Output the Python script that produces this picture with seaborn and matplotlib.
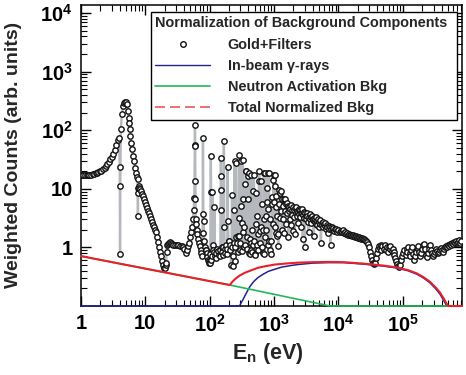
import matplotlib
matplotlib.use("Agg")
import matplotlib.pyplot as plt
from matplotlib.lines import Line2D
from matplotlib.ticker import FixedLocator, FixedFormatter, LogLocator, NullFormatter
import seaborn as sns
import pandas as pd

# ---------------- data ----------------
gold_E = [
    1.00, 1.036, 1.09, 1.154, 1.22, 1.28, 1.355, 1.43, 1.51, 1.59, 1.68, 1.77, 1.87, 1.97,
    2.08, 2.20, 2.32, 2.44, 2.58, 2.72, 2.87, 3.03, 3.19, 3.37, 3.55, 3.75, 3.89,
    4.00, 4.04, 4.08, 4.15, 4.33, 4.49, 4.65, 4.82, 5.00, 5.18, 5.37, 5.50, 5.60, 5.70,
    5.85, 6.00, 6.20, 6.40, 6.66, 6.90, 7.15, 7.42, 7.55, 7.62, 7.66, 7.72, 7.85, 8.00,
    8.26, 8.55, 8.87, 9.20, 9.52, 9.85, 10.2, 10.6, 11.0, 11.4, 11.8, 12.2, 12.7, 13.1,
    13.6, 14.1, 14.6, 15.1, 15.7, 16.3, 16.9, 17.5, 18.1, 18.8, 19.4, 20.1, 20.9,
    21.0, 21.5, 22.0, 22.6, 23.3, 24.1, 25.0, 26.0, 27.0, 28.8, 30.5, 32.1, 34.4, 36.5,
    38.4, 40.5, 42.7, 44.0, 45.9, 47.5, 49.2, 51.0, 52.8, 54.7, 56.7, 57.5, 58.0, 58.5,
    59.0, 59.3, 59.8, 60.5, 61.5, 62.5, 64, 66, 68, 70, 72, 74, 76, 77.5, 78.5, 79.5,
    80.5, 82, 84, 86, 88, 90, 92, 94, 96, 98, 100, 102, 104, 105, 106, 108, 110, 112,
    114, 116, 118, 120, 123, 126, 130, 134, 138, 142, 146, 149, 150, 151, 152, 153, 156,
    159, 163, 166, 168, 171, 175, 180, 183, 187, 190, 192, 196, 201, 205, 210, 214, 218,
    222, 226, 230, 235, 240, 243, 246, 250, 256, 260, 265, 270, 276, 281, 286, 290, 295,
    300, 305, 309, 313, 318, 323, 327, 332, 338, 345, 351, 358, 364, 370, 376, 383, 390,
    396, 402, 408, 415, 422, 430, 437, 444, 452, 460, 470, 478, 486, 494, 503, 512, 522,
    532, 541, 551, 561, 571, 581, 588, 598, 610, 623, 634, 646, 658, 670, 682, 694, 700,
    706, 719, 732, 745, 758, 772, 785, 795, 805, 818, 830, 840, 859, 875, 891, 907, 923,
    940, 956, 973, 991, 1000, 1015, 1027, 1040, 1055, 1070, 1085, 1103, 1120, 1143, 1160,
    1184, 1205, 1227, 1250, 1272, 1295, 1318, 1342, 1366, 1390, 1415, 1440, 1467, 1490,
    1520, 1548, 1575, 1605, 1633, 1662, 1692, 1722, 1753, 1785, 1817, 1850, 1883, 1917,
    1951, 1987, 2023, 2060, 2096, 2135, 2172, 2210, 2251, 2290, 2333, 2375, 2417, 2460,
    2505, 2550, 2600, 2650, 2700, 2750, 2790, 2840, 2890, 2940, 2990, 3040, 3100, 3170,
    3230, 3300, 3390, 3450, 3520, 3578, 3650, 3720, 3800, 3880, 3960, 4050, 4128, 4200,
    4280, 4360, 4450, 4530, 4620, 4710, 4800, 4900, 5000, 5110, 5220, 5330, 5450, 5570,
    5700, 5830, 5960, 6100, 6250, 6400, 6560, 6710, 6880, 7050, 7200, 7380, 7560, 7750,
    7950, 8130, 8350, 8560, 8780, 9000, 9250, 9500, 9750, 10000, 10400, 10800, 11200,
    11600, 12000, 12500, 12900, 13400, 13900, 14400, 14900, 15500, 16000, 16600, 17200,
    17800, 18500, 19100, 19800, 20600, 21300, 22100, 22900, 23700, 24600, 25500, 26400,
    27300, 28300, 29400, 30400, 31500, 32700, 33900, 35100, 36400, 37700, 39000, 40500,
    42000, 43500, 45000, 46600, 48300, 50100, 51900, 53800, 55800, 57800, 59900, 62100,
    64300, 66700, 69100, 71600, 74200, 76900, 79700, 82600, 85600, 88700, 91900, 95300,
    98700, 102000, 106000, 110000, 114000, 118000, 122000, 127000, 131000, 136000,
    141000, 146000, 151000, 157000, 163000, 169000, 175000, 181000, 188000, 194000,
    201000, 208000, 216000, 224000, 232000, 241000, 250000, 258000, 268000, 277000,
    287000, 298000, 309000, 320000, 332000, 344000, 356000, 369000, 383000, 397000,
    411000, 426000, 442000, 458000, 474000, 491000, 509000, 528000, 547000, 567000,
    588000, 609000, 631000, 654000, 678000, 702000, 728000, 754000, 781000, 810000,
]
gold_counts = [
    17.0, 16.9, 16.9, 16.9, 16.9, 17.0, 17.2, 17.4, 17.6, 17.9, 18.3, 18.7, 19.2, 19.8,
    20.5, 21.5, 23.0, 24.5, 26.5, 29.0, 32.0, 35.5, 40.0, 46.0, 55.0, 67.0, 75.0,
    24.0, 0.76, 11.0, 107, 191, 262, 290, 305, 300, 275, 210, 162, 133, 103,
    79, 61, 47, 36, 30, 23, 18.7, 16.0, 14.5, 8.6, 3.5, 10.4, 11.0, 10.5,
    10.0, 9.2, 8.2, 7.4, 6.6, 5.9, 5.3, 4.7, 4.2, 3.8, 3.4, 3.0, 2.7, 2.45,
    2.2, 2.0, 1.8, 1.5, 1.25, 1.0, 0.85, 0.70, 0.58, 0.50, 0.44, 0.45, 0.50,
    0.55, 1.1, 0.85, 1.15, 1.2, 1.22, 1.2, 1.15, 1.12, 1.1, 1.1, 1.08, 1.05, 1.05,
    1.0, 0.95, 0.8, 0.9, 1.05, 1.2, 1.5, 1.8, 2.2, 3.0, 4.3, 7.0, 13.5, 57,
    125, 53, 6.8, 3.0, 2.5, 2.0, 1.67, 1.4, 1.2, 1.05, 0.92, 0.8, 0.72, 1.78, 74, 3.65,
    2.8, 1.3, 1.0, 0.9, 0.92, 0.8, 0.68, 0.62, 0.58, 0.55, 0.55, 0.76, 36, 8.8, 0.6, 0.7, 8.7, 1.1,
    0.9, 0.85, 4.9, 0.71, 0.65, 0.8, 0.95, 0.88, 0.75, 0.7, 0.9, 33.8, 16.4, 9.4, 4.4, 1.0, 0.85,
    1.0, 0.75, 65, 2.25, 0.95, 0.8, 1.1, 0.76, 0.95, 23.7, 2.8, 1.3, 1.28, 0.9, 1.1, 0.5, 1.0,
    8.0, 0.48, 0.7, 1.2, 4.4, 29.6, 0.58, 1.0, 27.8, 1.5, 1.2, 0.85, 1.56, 3.2, 38.5, 1.56, 1.2,
    0.92, 29.6, 5.1, 2.6, 0.87, 6.6, 31.6, 1.8, 1.0, 2.2, 1.12, 11.9, 20, 20, 1.5, 0.95, 16.4,
    6.6, 18.7, 0.81, 0.76, 1.4, 0.9, 1.2, 17.5, 0.83, 2.0, 1.1, 9.1, 17.5, 1.3, 0.76, 0.73, 2.5,
    8.6, 1.1, 3.5, 0.9, 1.67, 13.5, 20, 1.9, 1.2, 13.5, 2.2, 5.5, 1.0, 0.81, 2.0, 18.7, 3.0,
    0.76, 18.7, 1.5, 3.5, 2.0, 6.0, 10.4, 18.7, 1.1, 4.5, 18.7, 1.28, 0.92, 3.0, 1.28, 0.76, 7.3,
    5.5, 2.5, 14.0, 17.5, 6.0, 2.2, 11.1, 17.5, 1.78, 4.8, 7.5, 1.56, 3.5, 1.67, 1.05,
    5.5, 9.7, 8.5, 3.2, 9.1, 4.2, 2.0, 6.6, 5.0, 3.0, 6.8, 1.78, 6.6, 4.2,
    5.5, 2.5, 5.8, 3.8, 5.1, 1.5, 4.8, 4.2, 4.6, 3.0, 5.2, 2.4, 4.3, 3.6,
    4.9, 1.9, 4.4, 3.3, 1.67, 4.7, 3.9, 4.9, 3.5, 4.2, 2.6, 4.0, 3.7, 4.5,
    3.3, 4.4, 3.9, 2.2, 3.8, 4.6, 1.37, 3.6, 4.1, 3.2, 1.0, 3.8, 3.4, 3.0,
    3.9, 3.4, 2.7, 1.8, 3.3, 3.65, 3.0, 3.3, 2.6, 3.5, 2.9, 3.0, 1.56, 3.2,
    2.7, 3.0, 2.5, 3.3, 2.8, 2.4, 3.1, 2.2, 2.7, 2.5, 2.9, 1.2, 2.6, 2.4,
    2.7, 2.2, 2.5, 2.3, 2.6, 2.1, 2.4, 2.2, 1.75, 2.35, 2.1, 2.2, 1.1, 2.05,
    2.25, 2.0, 2.15, 1.9, 2.1, 1.95, 2.05, 1.85, 2.0, 1.95, 1.85, 1.9, 1.8,
    1.95, 1.75, 1.8, 1.7, 1.75, 1.65, 1.7, 1.6, 1.65, 1.55, 1.6, 1.55,
    1.5, 1.55, 1.5, 1.45, 1.5, 1.45, 1.4, 1.45, 1.4, 1.38, 1.35, 1.3,
    1.25, 1.15, 1.0, 0.85, 0.72, 0.62, 0.55, 0.52, 0.55, 0.65, 0.8, 0.95,
    1.05, 0.98, 1.08, 0.92, 1.05, 0.95, 1.1, 0.9, 1.0, 0.85, 1.0, 0.95,
    1.05, 0.88, 0.95, 0.82, 0.75, 0.65, 0.58, 0.52, 0.48, 0.47, 0.5, 0.6,
    0.71, 0.8, 0.9, 0.75, 0.95, 0.85, 1.0, 0.8, 0.7, 0.9,
    1.0, 0.78, 0.62, 0.7, 0.85, 0.95, 1.05, 0.85, 0.7, 0.8,
    0.95, 1.1, 1.15, 0.95, 0.75, 0.68, 0.8, 0.95, 1.1, 0.9,
    0.8, 0.72, 0.78, 0.85, 0.95, 0.88, 0.8, 0.85, 0.92, 0.98,
    0.9, 0.85, 0.95, 1.0, 1.05, 1.0, 1.1, 1.05, 1.15, 1.1,
    1.2, 1.15, 1.25, 1.2, 1.3, 1.2, 1.25, 1.35, 1.2, 1.3,
]

gamma_E = [1, 290, 310, 330, 353, 385, 421, 480, 560, 680, 812, 1000, 1300, 1800, 2340,
           4000, 7000, 12000, 24000, 50000, 81000, 120000, 165000, 210000, 262000,
           320000, 377000, 430000, 470000, 488000, 830000]
gamma_counts = [0.1, 0.1, 0.115, 0.13, 0.15, 0.18, 0.215, 0.26, 0.305, 0.35, 0.39, 0.42,
                0.46, 0.49, 0.51, 0.54, 0.55, 0.55, 0.52, 0.48, 0.445, 0.40, 0.35, 0.30,
                0.25, 0.20, 0.16, 0.125, 0.105, 0.1, 0.1]

activ_E = [1, 205, 7400, 830000]
activ_counts = [0.71, 0.228, 0.1, 0.1]

total_E = [1, 205, 225, 245, 290, 353, 450, 565, 750, 1030, 1500, 2340, 4000, 7000,
           12000, 24000, 50000, 81000, 120000, 165000, 210000, 262000, 320000, 377000,
           430000, 478000, 510000, 830000]
total_counts = [0.71, 0.228, 0.26, 0.285, 0.33, 0.37, 0.41, 0.45, 0.48, 0.51, 0.53, 0.55,
                0.56, 0.565, 0.56, 0.53, 0.49, 0.455, 0.41, 0.36, 0.31, 0.26, 0.21, 0.17,
                0.135, 0.11, 0.1, 0.1]

x_ticks = [1, 10, 100, 1000, 10000, 100000]
x_tick_labels = ["1", "10", r"$10^{2}$", r"$10^{3}$", r"$10^{4}$", r"$10^{5}$"]
y_ticks = [1, 10, 100, 1000, 10000]
y_tick_labels = ["1", "10", r"$10^{2}$", r"$10^{3}$", r"$10^{4}$"]
legend_title = "Normalization of Background Components"
legend_labels = ["Gold+Filters", "In-beam γ-rays", "Neutron Activation Bkg", "Total Normalized Bkg"]

# ---------------- style ----------------
sns.set_theme(style="ticks")
plt.rcParams["font.family"] = ["Liberation Sans", "DejaVu Sans"]
plt.rcParams["font.weight"] = "bold"
plt.rcParams["mathtext.fontset"] = "custom"
plt.rcParams["mathtext.rm"] = "Liberation Sans:bold"
plt.rcParams["mathtext.bf"] = "Liberation Sans:bold"
plt.rcParams["mathtext.it"] = "Liberation Sans:bold:italic"
plt.rcParams["mathtext.default"] = "rm"

fig = plt.figure(figsize=(4.66, 3.75), dpi=100)
ax = fig.add_axes([81 / 466, 69 / 375, 381 / 466, 301.5 / 375])
ax.set_xscale("log")
ax.set_yscale("log")

gold = pd.DataFrame({"E": gold_E, "counts": gold_counts})
sns.lineplot(data=gold, x="E", y="counts", sort=False, estimator=None, ax=ax,
             color="#b5b9be", linewidth=1.7, zorder=2)
sns.scatterplot(data=gold, x="E", y="counts", ax=ax, marker="o", s=15,
                facecolor="white", edgecolor="#111111", linewidth=1.0, zorder=3)

sns.lineplot(x=gamma_E, y=gamma_counts, sort=False, estimator=None, ax=ax,
             color="#23238c", linewidth=1.1, zorder=4, clip_on=False)
sns.lineplot(x=activ_E, y=activ_counts, sort=False, estimator=None, ax=ax,
             color="#1fb956", linewidth=1.2, zorder=5, clip_on=False)
sns.lineplot(x=total_E, y=total_counts, sort=False, estimator=None, ax=ax,
             color="#e8202a", linewidth=1.5, zorder=6, clip_on=False)

ax.set_xlim(1, 8.3e5)
ax.set_ylim(0.1, 1.4e4)

ax.xaxis.set_major_locator(FixedLocator(x_ticks))
ax.xaxis.set_major_formatter(FixedFormatter(x_tick_labels))
ax.yaxis.set_major_locator(FixedLocator(y_ticks))
ax.yaxis.set_major_formatter(FixedFormatter(y_tick_labels))
ax.xaxis.set_minor_locator(LogLocator(base=10, subs=range(2, 10), numticks=20))
ax.yaxis.set_minor_locator(LogLocator(base=10, subs=range(2, 10), numticks=20))
ax.xaxis.set_minor_formatter(NullFormatter())
ax.yaxis.set_minor_formatter(NullFormatter())

ax.tick_params(which="both", direction="in", top=True, right=True, colors="black",
               labelsize=14.5)
ax.tick_params(which="major", length=7, width=1.0, pad=6)
ax.tick_params(which="minor", length=4, width=0.8)
for lab in ax.get_xticklabels() + ax.get_yticklabels():
    lab.set_fontweight("bold")
for sp in ax.spines.values():
    sp.set_linewidth(1.1)
    sp.set_color("black")

ax.set_xlabel(r"E$_{\mathregular{n}}$ (eV)", fontsize=15.5, fontweight="bold")
ax.set_ylabel("Weighted Counts (arb. units)", fontsize=14, fontweight="bold")
ax.xaxis.set_label_coords(0.49, -0.115)
ax.yaxis.set_label_coords(-0.155, 0.5)

handles = [
    Line2D([], [], ls="none", marker="o", markersize=4, markerfacecolor="white",
           markeredgecolor="#111111", markeredgewidth=1.0),
    Line2D([], [], color="#23238c", lw=1.0),
    Line2D([], [], color="#1fb956", lw=1.2),
    Line2D([], [], color="#ee5555", lw=1.2, dashes=(6, 3)),
]
leg = ax.legend(handles, legend_labels, title=legend_title, loc="upper left",
                bbox_to_anchor=(0.184, 0.62, 0.803, 0.355), mode="expand",
                borderaxespad=0, fancybox=False, framealpha=1, edgecolor="black",
                prop={"weight": "bold", "size": 10.4},
                title_fontproperties={"weight": "bold", "size": 10.4},
                handlelength=3.8, handletextpad=1.2, labelspacing=0.5,
                borderpad=0.3)
leg.get_frame().set_linewidth(1.0)
leg._legend_box.align = "left"
leg.set_zorder(10)

fig.savefig("out.png", dpi=100)
